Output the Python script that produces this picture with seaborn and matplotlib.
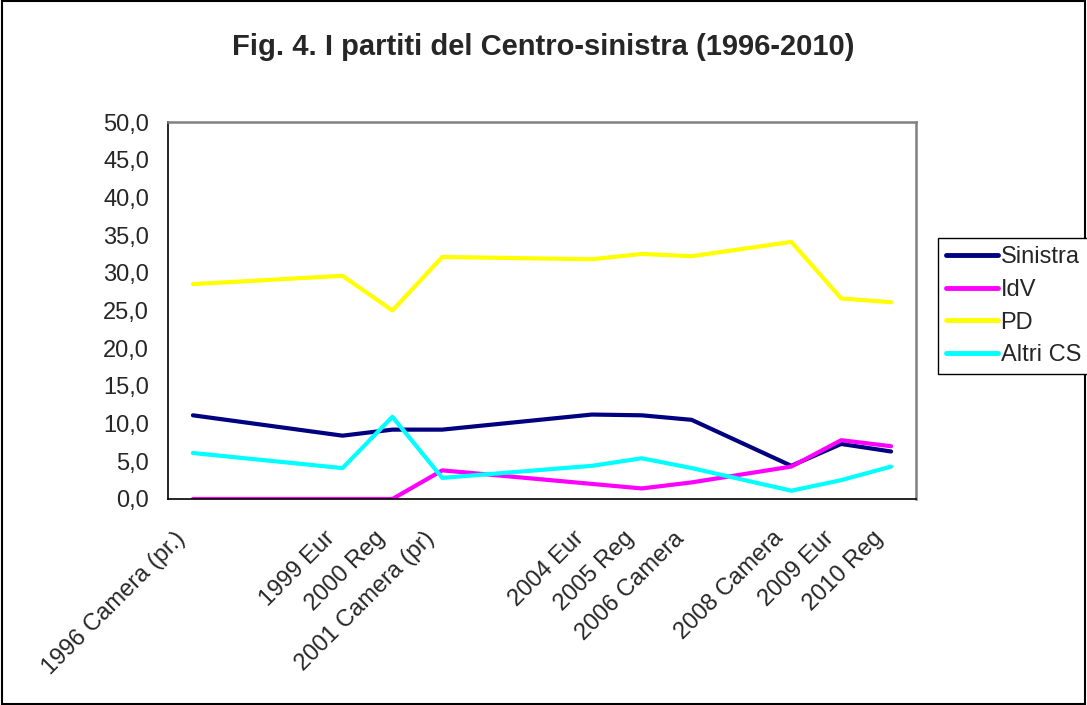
import numpy as np
import pandas as pd
import matplotlib
matplotlib.use("Agg")
import matplotlib.pyplot as plt
import matplotlib.transforms as mtransforms
import seaborn as sns
from matplotlib.ticker import FuncFormatter, FixedLocator
from matplotlib.patches import Rectangle

# categorie dell'asse x (Excel: alcune categorie vuote)
categories = ["1996 Camera (pr.)", "", "", "1999 Eur", "2000 Reg", "2001 Camera (pr)",
              "", "", "2004 Eur", "2005 Reg", "2006 Camera", "", "2008 Camera",
              "2009 Eur", "2010 Reg"]
elections = ["1996 Camera (pr.)", "1999 Eur", "2000 Reg", "2001 Camera (pr)",
             "2004 Eur", "2005 Reg", "2006 Camera", "2008 Camera", "2009 Eur", "2010 Reg"]

sinistra = [11.1, 8.4, 9.2, 9.2, 11.2, 11.1, 10.5, 4.4, 7.3, 6.3]
idv = [0.0, 0.0, 0.0, 3.8, 2.0, 1.4, 2.2, 4.3, 7.8, 7.0]
pd_vals = [28.5, 29.6, 25.0, 32.1, 31.8, 32.5, 32.2, 34.1, 26.6, 26.1]
altri_cs = [6.1, 4.1, 10.9, 2.8, 4.4, 5.4, 4.1, 1.1, 2.5, 4.3]

series = {"Sinistra": sinistra, "IdV": idv, "PD": pd_vals, "Altri CS": altri_cs}
colors = {"Sinistra": "#000080", "IdV": "#FF00FF", "PD": "#FFFF00", "Altri CS": "#00FFFF"}

rows = []
for name, vals in series.items():
    for lab, v in zip(elections, vals):
        rows.append({"pos": categories.index(lab), "valore": v, "serie": name})
df = pd.DataFrame(rows)

sns.set_style("white")
plt.rcParams['font.family'] = ['Liberation Sans', 'DejaVu Sans']

fig = plt.figure(figsize=(10.87, 7.05), dpi=100)
ax = fig.add_axes([168 / 1087, 1 - 499 / 705, 748 / 1087, 377 / 705])

sns.lineplot(data=df, x="pos", y="valore", hue="serie", palette=colors,
             hue_order=list(series.keys()), linewidth=3, ax=ax, legend=False)

ax.set_xlim(-0.5, len(categories) - 0.5)
ax.set_ylim(0, 50)
ax.set_yticks(np.arange(0, 50.1, 5))
ax.yaxis.set_major_formatter(FuncFormatter(lambda v, p: f"{v:.1f}".replace(".", ",")))
ax.xaxis.set_major_locator(FixedLocator(range(len(categories))))
ax.set_xticklabels(categories, rotation=45, ha="right", va="center", rotation_mode="anchor")
ax.xaxis.set_minor_locator(FixedLocator(np.arange(-0.5, len(categories), 1.0)))
ax.tick_params(axis="x", which="major", length=0, pad=26, labelsize=17)
ax.tick_params(axis="x", which="minor", length=5.5, width=1, color="black", direction="out")
ax.tick_params(axis="y", length=5.5, width=1, color="black", direction="out", labelsize=17, pad=8)
# piccolo spostamento a sinistra delle etichette, come in Excel
shift = mtransforms.ScaledTranslation(-11 / 100, 0, fig.dpi_scale_trans)
for lab in ax.get_xticklabels():
    lab.set_transform(lab.get_transform() + shift)
ax.set_xlabel("")
ax.set_ylabel("")
for s in ["left", "bottom"]:
    ax.spines[s].set_color("black")
    ax.spines[s].set_linewidth(1.2)
for s in ["top", "right"]:
    ax.spines[s].set_color("#808080")
    ax.spines[s].set_linewidth(1.8)

fig.text(0.4995, 1 - 47 / 705, "Fig. 4. I partiti del Centro-sinistra (1996-2010)",
         ha="center", va="center", fontsize=21, fontweight="bold")

handles = [plt.Line2D([], [], color=colors[k], linewidth=3.5) for k in series]
fig.legend(handles, list(series.keys()), loc="upper left",
           bbox_to_anchor=(938 / 1087, 1 - 238 / 705), borderaxespad=0,
           fontsize=17, frameon=True, fancybox=False, edgecolor="black",
           handlelength=2.2, handletextpad=0.1, labelspacing=0.45,
           borderpad=0.35, framealpha=1)

fig.patches.append(Rectangle((0.002, 0.002), 0.996, 0.996, transform=fig.transFigure,
                             fill=False, edgecolor="black", linewidth=1.5))

fig.savefig("out.png", dpi=100)
